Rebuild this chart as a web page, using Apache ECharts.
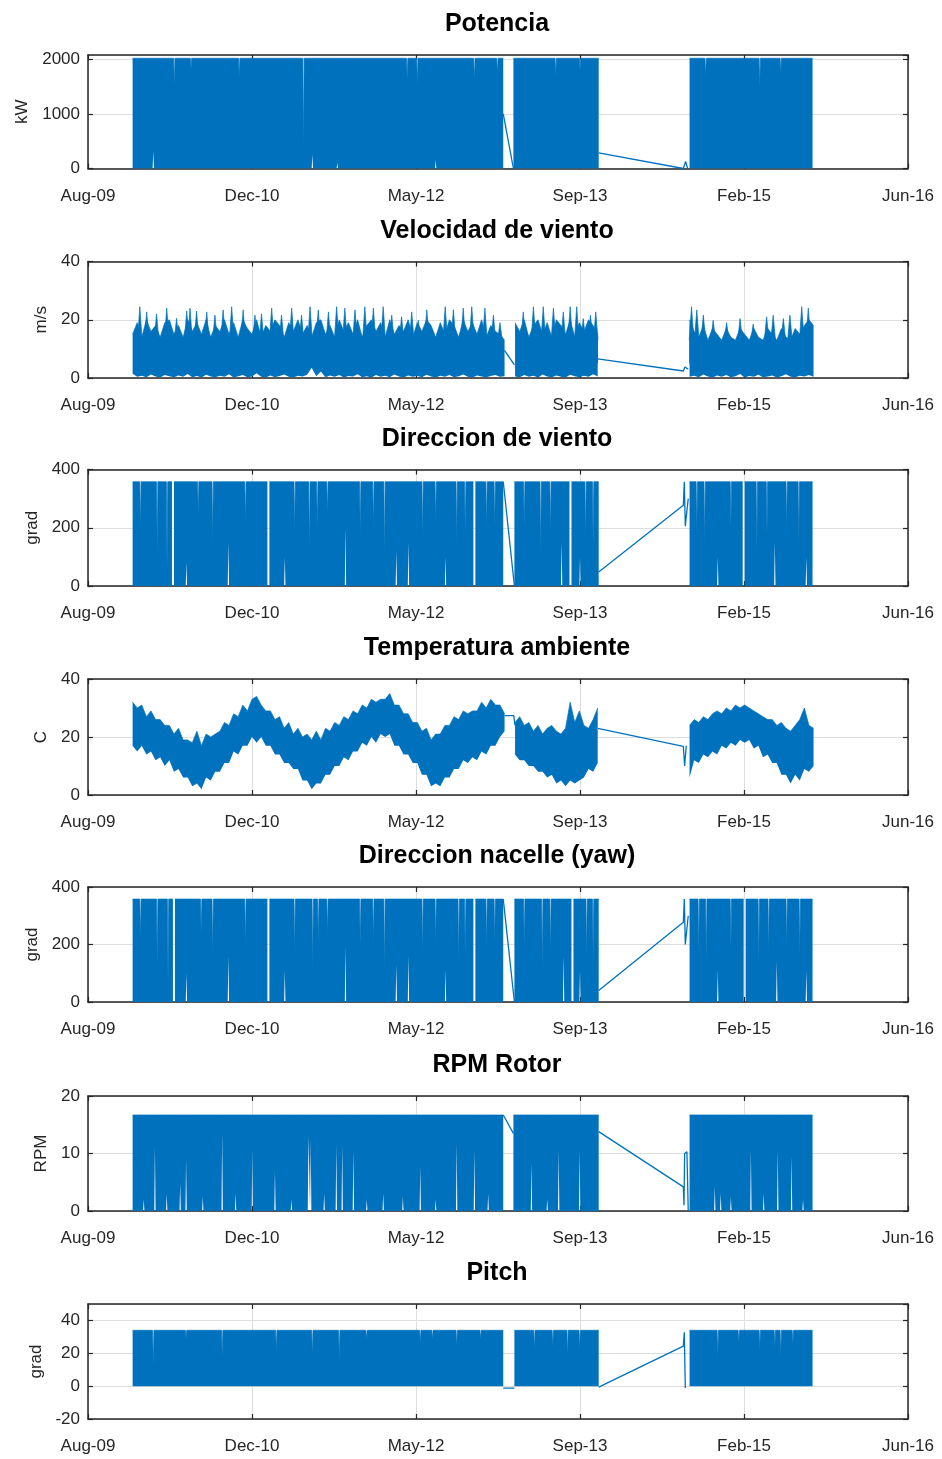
<!DOCTYPE html>
<html><head><meta charset="utf-8">
<script src="https://cdn.jsdelivr.net/npm/echarts@6/dist/echarts.min.js"></script>
<style>html,body{margin:0;padding:0;background:#fff}#c{width:942px;height:1459px}</style>
</head><body><div id="c"></div>
<script>
// ---------------- DATA ----------------
// x axis: days since 2009-08-15 (axis spans 2500 days, ticks every 500 days)
const tickLabels = ['Aug-09', 'Dec-10', 'May-12', 'Sep-13', 'Feb-15', 'Jun-16'];
const tickStepDays = 500;
const axisDays = 2500;

const titles = ['Potencia', 'Velocidad de viento', 'Direccion de viento', 'Temperatura ambiente',
                'Direccion nacelle (yaw)', 'RPM Rotor', 'Pitch'];
const yNames = ['kW', 'm/s', 'grad', 'C', 'grad', 'RPM', 'grad'];
const yMin = [0, 0, 0, 0, 0, 0, -20];
const yMax = [2080, 40, 400, 40, 400, 20, 50];
const yStep = [1000, 20, 200, 20, 200, 10, 20];

// Dense (solid) signals: blocks [startDay, endDay, low, high] and thin streaks [day, low, high] (null = gap)
const potBlocks = [[136, 1266, 0, 2020], [1297, 1557, 0, 2020], [1834, 2209, 0, 2020]];
const potStreaks = [[199, 315, 2020], [263, 0, 1535], [314, 0, 1830], [461, 0, 1680], [657, 0, 400], [684, 255, 2020],
  [760, 100, 2020], [973, 0, 1650], [1004, 0, 1550], [1060, 150, 2020], [1178, 0, 1600], [1248, 0, 1750],
  [1426, 0, 1700], [1500, 0, 1800], [1883, 0, 1700], [2048, 0, 1500], [2112, 0, 1750]];
const potLinks = [[1266, 1000], [1297, 0], null, [1557, 285], [1815, 0], [1822, 130], [1828, 0]];

const dirBlocks = [[136, 1266, 0, 358], [1300, 1557, 0, 358], [1834, 2209, 0, 358]];
const dirStreaks = [[160, 0, 200], [211, 0, 120], [241, 0, 60], [259, null, null], [300, 80, 358], [336, 0, 250],
  [380, 0, 150], [428, 150, 358], [480, 0, 220], [550, null, null], [600, 100, 358], [630, 0, 180], [675, 0, 120],
  [699, 0, 200], [730, 0, 250], [785, 200, 358], [830, 0, 180], [870, 0, 200], [904, 0, 100], [940, 120, 358],
  [977, 150, 358], [1020, 0, 160], [1060, 0, 220], [1090, 100, 358], [1124, 0, 150], [1150, 0, 180],
  [1178, null, null], [1215, 0, 200], [1240, 0, 200], [1330, 0, 200], [1380, 0, 100], [1410, 0, 180],
  [1444, 150, 358], [1471, null, null], [1500, 100, 358], [1517, 0, 160], [1540, 0, 150], [1856, 0, 180],
  [1880, 0, 150], [1920, 100, 358], [1960, 0, 200], [1999, null, null], [2039, 0, 120], [2070, 0, 180],
  [2094, 150, 358], [2130, 0, 200], [2167, 0, 150], [2190, 100, 358]];
const dirLinks = [[1266, 358], [1300, 0], null, [1557, 48], [1815, 277], [1818, 358], [1821, 205], [1830, 300]];

const nacBlocks = [[136, 1266, 0, 358], [1300, 1557, 0, 358], [1834, 2209, 0, 358]];
const nacStreaks = [[160, 0, 220], [211, 0, 130], [244, 0, 70], [262, null, null], [300, 100, 358], [345, 0, 240],
  [380, 0, 160], [428, 160, 358], [480, 0, 200], [550, null, null], [600, 110, 358], [630, 0, 170], [685, 0, 120],
  [702, 0, 210], [730, 0, 240], [785, 190, 358], [830, 0, 190], [870, 0, 210], [904, 0, 110], [940, 130, 358],
  [977, 160, 358], [1020, 0, 170], [1060, 0, 210], [1090, 110, 358], [1130, 0, 140], [1150, 0, 170],
  [1178, null, null], [1215, 0, 190], [1240, 0, 210], [1330, 0, 190], [1385, 0, 110], [1410, 0, 170],
  [1450, 160, 358], [1477, null, null], [1500, 110, 358], [1520, 0, 150], [1540, 0, 160], [1862, 0, 170],
  [1885, 0, 140], [1920, 110, 358], [1960, 0, 190], [2002, null, null], [2045, 0, 130], [2075, 0, 170],
  [2100, 140, 358], [2130, 0, 190], [2170, 0, 160], [2190, 110, 358]];
const nacLinks = [[1266, 358], [1300, 0], null, [1557, 40], [1815, 277], [1818, 358], [1821, 200], [1830, 300]];

const rpmBlocks = [[136, 1266, 0, 16.7], [1297, 1557, 0, 16.7], [1834, 2209, 0, 16.7]];
const rpmStreaks = [[170, 2, 16.7], [204, 11.2, 16.7], [240, 3, 16.7], [281, 4.8, 16.7], [299, 8.9, 16.7],
  [350, 2.5, 16.7], [409, 13.5, 16.7], [450, 3, 16.7], [501, 10.6, 16.7], [570, 7, 16.7], [620, 2, 16.7],
  [672, 13, 16.7], [679, 12.5, 16.7], [720, 3, 16.7], [757, 11.5, 16.7], [775, 11.5, 16.7], [809, 10.6, 16.7],
  [850, 2, 16.7], [900, 3, 16.7], [960, 2.5, 16.7], [1013, 7.6, 16.7], [1060, 2, 16.7], [1124, 11.8, 16.7],
  [1178, 10.6, 16.7], [1220, 3, 16.7], [1352, 8.4, 16.7], [1400, 2, 16.7], [1435, 10.6, 16.7], [1499, 10.6, 16.7],
  [1911, 4.2, 16.7], [1929, 3, 16.7], [1960, 2.5, 16.7], [2021, 10.6, 16.7], [2060, 3, 16.7], [2103, 10.6, 16.7],
  [2145, 9.5, 16.7], [2180, 2, 16.7]];
const rpmLinks = [[1266, 16.7], [1297, 13.5], null, [1557, 13.8], [1815, 4.2], [1817, 1], [1819, 10], [1826, 10.3], [1830, 0]];

const pitBlocks = [[136, 1266, -1.2, 32.8], [1300, 1557, -1.2, 32.8], [1834, 2209, -1.2, 32.8]];
const pitStreaks = [[199, -1.2, 11], [299, -1.2, 28], [409, -1.2, 17], [574, -1.2, 20], [684, -1.2, 17.4],
  [766, -1.2, 15], [849, -1.2, 27], [1013, -1.2, 25], [1050, -1.2, 27], [1124, -1.2, 23], [1197, -1.2, 27],
  [1361, -1.2, 21], [1417, -1.2, 23], [1462, -1.2, 17], [1499, -1.2, 21], [1920, -1.2, 17], [1984, -1.2, 25],
  [2048, -1.2, 21], [2094, -1.2, 23], [2112, -1.2, 17], [2149, -1.2, 25]];
const pitLinks = [[1266, -1.2], [1300, -1.2], null, [1557, -0.6], [1815, 24.4], [1818, 32.8], [1821, -1.2]];

// Noisy signals sampled every 14 days from each block start: low / high envelope per sample
const noisyStarts = [136, 1302, 1834];
const noisyStepDays = 14;

const windHi1 = [15, 19, 14, 20, 16, 18, 14, 19, 20, 15, 18, 14, 20, 16, 19, 15, 20, 14, 18, 16,
  20, 15, 19, 14, 20, 17, 15, 20, 14, 18, 16, 20, 18, 14, 19, 16, 20, 15, 18, 14,
  19, 20, 15, 18, 14, 20, 16, 19, 15, 20, 14, 18, 20, 16, 19, 14, 20, 15, 18, 16,
  20, 14, 19, 16, 20, 18, 14, 19, 15, 20, 18, 14, 20, 16, 19, 15, 20, 14, 18, 16, 15, 13];
const windLo1 = [1.5, 0.4, 0.8, 0.3, 1.2, 0.5, 0.2, 1.0, 0.6, 0.3, 0.9, 0.4, 1.4, 0.3, 0.7, 0.2, 1.1, 0.5, 0.3, 0.8,
  0.4, 1.3, 0.2, 0.6, 1.0, 0.3, 0.5, 1.6, 0.4, 0.2, 0.9, 0.3, 0.7, 1.2, 0.4, 0.2, 0.8, 0.5, 1.1, 3.5,
  0.6, 2.2, 0.3, 0.9, 0.4, 1.0, 0.2, 0.7, 0.5, 1.3, 0.3, 0.6, 0.2, 1.0, 0.4, 0.8, 0.3, 1.2, 0.5, 0.2,
  0.9, 0.4, 0.7, 0.3, 1.1, 0.5, 0.2, 0.8, 0.4, 1.0, 0.3, 0.6, 1.2, 0.4, 0.2, 0.9, 0.5, 0.3, 0.7, 1.0, 0.4, 0.6];
const windHi2 = [19, 16, 20, 14, 18, 20, 15, 19, 14, 20, 18, 15, 20, 14, 19, 16, 20, 18, 15];
const windLo2 = [0.5, 0.3, 1.0, 0.4, 0.8, 0.2, 1.2, 0.5, 0.3, 0.9, 0.4, 0.2, 1.1, 0.6, 0.3, 0.8, 0.4, 1.3, 0.5];
const windHi3 = [20, 16, 14, 18, 13, 17, 15, 13, 17, 14, 13, 17, 15, 13, 17, 14, 13, 17, 15, 13,
  17, 14, 13, 17, 15, 18, 20, 18];
const windLo3 = [0.4, 0.8, 0.3, 1.2, 0.5, 0.2, 0.9, 0.4, 1.0, 0.3, 0.6, 1.4, 0.2, 0.7, 0.4, 1.1, 0.3, 0.5, 0.9, 0.2,
  0.6, 1.3, 0.4, 0.3, 0.8, 0.5, 1.0, 0.4];
// gust peaks above the wind-speed band: [day, peak m/s]
const windPeaks = [[158, 24.5], [179, 22.7], [209, 22], [240, 24], [270, 20.5], [301, 23], [311, 24], [331, 23],
  [362, 22.7], [387, 21.6], [412, 23.4], [438, 24.5], [473, 23.4], [509, 21.6], [529, 22], [560, 24], [590, 21.6],
  [621, 24], [651, 21.6], [677, 24.5], [702, 23.4], [733, 22.7], [758, 24.5], [783, 24], [814, 23.4], [844, 24.5],
  [870, 24], [900, 24.5], [926, 21.6], [956, 21], [987, 22.7], [1007, 19.8], [1033, 23.4], [1089, 24.5],
  [1114, 23.4], [1144, 24], [1170, 24.5], [1210, 24], [1236, 21.6], [1256, 19],
  [1327, 22.7], [1358, 24.5], [1388, 24.5], [1419, 24], [1449, 22.7], [1470, 24.5], [1490, 24.5], [1510, 20.4],
  [1532, 21.6], [1548, 22.7],
  [1840, 24.5], [1856, 23.4], [1876, 21.6], [1906, 19.8], [1947, 19], [1988, 20.4], [2028, 18.5], [2069, 21],
  [2089, 21.6], [2120, 20.4], [2140, 21.6], [2176, 24.5], [2196, 24]];
const windLinks = [[1270, 9.5], [1300, 4.5], null, [1554, 6.6], [1815, 2.4], [1820, 3.8], [1830, 3]];

const tempHi1 = [32, 30, 31, 27, 29, 26, 26, 24, 24, 21, 23, 19, 19, 18, 22, 17, 21, 20, 21, 22,
  25, 24, 28, 27, 31, 29, 33, 34, 31, 29, 29, 26, 27, 23, 25, 21, 23, 20, 21, 19,
  22, 19, 23, 22, 25, 24, 27, 26, 29, 28, 31, 30, 33, 32, 33, 33, 35, 31, 31, 28,
  28, 25, 25, 22, 23, 19, 21, 21, 24, 24, 27, 26, 29, 28, 29, 29, 32, 30, 33, 31, 31, 28];
const tempLo1 = [17, 15, 17, 14, 15, 12, 13, 10, 12, 8, 9, 6, 6, 3, 4, 2, 6, 5, 8, 8,
  11, 11, 15, 14, 17, 17, 20, 18, 20, 17, 17, 14, 14, 11, 11, 9, 9, 5, 5, 2,
  4, 4, 7, 7, 10, 10, 13, 12, 15, 15, 18, 17, 20, 18, 21, 20, 21, 17, 17, 14,
  14, 11, 11, 7, 7, 3, 4, 3, 6, 6, 9, 9, 12, 11, 13, 12, 15, 14, 17, 17, 20, 22];
const tempHi2 = [25, 27, 24, 25, 22, 24, 21, 23, 24, 22, 21, 23, 32, 25, 29, 24, 23, 26, 30];
const tempLo2 = [14, 12, 12, 10, 10, 8, 8, 6, 7, 4, 5, 3, 5, 4, 5, 6, 9, 8, 11];
const tempHi3 = [24, 26, 25, 27, 26, 28, 29, 28, 30, 29, 31, 30, 31, 30, 29, 28, 27, 26, 26, 24,
  25, 23, 22, 24, 26, 30, 24, 23];
const tempLo3 = [6, 12, 11, 14, 13, 15, 14, 17, 16, 18, 17, 19, 18, 19, 16, 17, 13, 14, 11, 11,
  7, 7, 4, 7, 5, 9, 8, 10];
const tempLinks = [[1270, 27.4], [1298, 27.4], [1302, 24], null, [1554, 23], [1815, 16.8], [1819, 10], [1824, 17]];

// ---------------- LAYOUT / STYLE ----------------
const gridTop = [55, 261.5, 469.5, 679, 887, 1096, 1304];
const gridH = [113.5, 116.5, 116.5, 116, 115, 115, 115];
const nameGaps = [56.5, 29.5, 37, 37, 37, 30.5, 37];
const BLUE = '#0072BD';
const TXT = '#262626';
const AXC = '#262626';
const GRIDC = '#dedede';
const FONT = '"Liberation Sans", Arial, Helvetica, sans-serif';

// ---------------- BUILD ----------------
function solidBand(blocks, streaks) {
  const pts = [];
  blocks.forEach((b, bi) => {
    const [s, e, lo, hi] = b;
    pts.push([s, lo, hi]);
    streaks.filter(t => t[0] > s && t[0] < e).sort((a, c) => a[0] - c[0]).forEach(t => {
      const w = t[1] === null ? 3 : 2;
      pts.push([t[0] - w, lo, hi]);
      pts.push([t[0], t[1], t[2]]);
      pts.push([t[0] + w, lo, hi]);
    });
    pts.push([e, lo, hi]);
    if (bi < blocks.length - 1) pts.push([e + 1, null, null]);
  });
  return pts;
}
function sampledBand(starts, step, los, his) {
  const pts = [];
  starts.forEach((s, bi) => {
    los[bi].forEach((lo, k) => pts.push([s + step * k, lo, his[bi][k]]));
    if (bi < starts.length - 1) pts.push([s + step * (los[bi].length - 1) + 1, null, null]);
  });
  return pts;
}
// wedges rising from inside the band (base) up to each peak
function peakBand(peaks, floor, base, half) {
  const pts = [];
  peaks.forEach(p => {
    pts.push([p[0] - half, floor, base]);
    pts.push([p[0], floor, p[1]]);
    pts.push([p[0] + half, floor, base]);
    pts.push([p[0] + half + 1, null, null]);
  });
  return pts;
}

const bands = [
  [solidBand(potBlocks, potStreaks)],
  [sampledBand(noisyStarts, noisyStepDays, [windLo1, windLo2, windLo3], [windHi1, windHi2, windHi3]),
   peakBand(windPeaks, 5, 13, 7)],
  [solidBand(dirBlocks, dirStreaks)],
  [sampledBand(noisyStarts, noisyStepDays, [tempLo1, tempLo2, tempLo3], [tempHi1, tempHi2, tempHi3])],
  [solidBand(nacBlocks, nacStreaks)],
  [solidBand(rpmBlocks, rpmStreaks)],
  [solidBand(pitBlocks, pitStreaks)]
];
const links = [potLinks, windLinks, dirLinks, tempLinks, nacLinks, rpmLinks, pitLinks];

const dayCats = [];
for (let d = 0; d <= axisDays; d++) dayCats.push(String(d));
const isTick = (idx) => idx % tickStepDays === 0;

const grids = [], xAxes = [], yAxes = [], series = [], titleList = [];
for (let i = 0; i < 7; i++) {
  grids.push({left: 88, right: 34, top: gridTop[i], height: gridH[i], outerBoundsMode: 'none', containLabel: false});
  titleList.push({
    text: titles[i], left: 492, top: gridTop[i] - 48, textAlign: 'center',
    textStyle: {fontSize: 25, fontWeight: 'bold', fontFamily: FONT, color: '#000'}
  });
  const axLine = {show: true, onZero: false, lineStyle: {color: AXC, width: 1.5}};
  xAxes.push({
    type: 'category', gridIndex: i, data: dayCats, boundaryGap: false, position: 'bottom',
    axisLine: axLine,
    axisTick: {show: true, inside: true, length: 5, interval: isTick, lineStyle: {color: AXC, width: 1.2}},
    axisLabel: {show: true, interval: isTick, formatter: (v, idx) => tickLabels[Math.round(idx / tickStepDays)],
      color: TXT, fontSize: 17, fontFamily: FONT, margin: 19},
    splitLine: {show: true, interval: isTick, lineStyle: {color: GRIDC, width: 1}}
  });
  xAxes.push({
    type: 'category', gridIndex: i, data: dayCats, boundaryGap: false, position: 'top',
    axisLine: axLine,
    axisTick: {show: true, inside: true, length: 5, interval: isTick, lineStyle: {color: AXC, width: 1.2}},
    axisLabel: {show: false}, splitLine: {show: false}
  });
  const exact = (yMax[i] - yMin[i]) % yStep[i] === 0;
  yAxes.push({
    type: 'value', gridIndex: i, min: yMin[i], max: yMax[i], interval: yStep[i], position: 'left',
    name: yNames[i], nameLocation: 'middle', nameGap: nameGaps[i],
    nameTextStyle: {color: TXT, fontSize: 17, fontFamily: FONT},
    axisLine: axLine,
    axisTick: {show: true, inside: true, length: 5, lineStyle: {color: AXC, width: 1.2}},
    axisLabel: {color: TXT, fontSize: 17, fontFamily: FONT, margin: 8, showMaxLabel: exact,
      formatter: (v) => String(v)},
    splitLine: {show: true, lineStyle: {color: GRIDC, width: 1}}
  });
  yAxes.push({
    type: 'value', gridIndex: i, min: yMin[i], max: yMax[i], interval: yStep[i], position: 'right',
    axisLine: axLine,
    axisTick: {show: true, inside: true, length: 5, lineStyle: {color: AXC, width: 1.2}},
    axisLabel: {show: false}, splitLine: {show: false}
  });

  bands[i].forEach((pts, bj) => {
    const st = 'band' + i + '_' + bj;
    series.push({
      type: 'line', xAxisIndex: 2 * i, yAxisIndex: 2 * i, stack: st, symbol: 'none', silent: true,
      lineStyle: {width: 0, opacity: 0}, data: pts.map(p => [p[0], p[1]]), z: 2
    });
    series.push({
      type: 'line', xAxisIndex: 2 * i, yAxisIndex: 2 * i, stack: st, symbol: 'none', silent: true,
      lineStyle: {color: BLUE, width: 0.7}, areaStyle: {color: BLUE, opacity: 1},
      data: pts.map(p => [p[0], p[1] === null ? null : p[2] - p[1]]), z: 2
    });
  });
  const segs = [[]];
  links[i].forEach(p => { if (p === null) segs.push([]); else segs[segs.length - 1].push(p); });
  segs.forEach(seg => series.push({
    type: 'line', xAxisIndex: 2 * i, yAxisIndex: 2 * i, symbol: 'none', silent: true,
    lineStyle: {color: BLUE, width: 1.3}, data: seg, z: 3
  }));
}

const chart = echarts.init(document.getElementById('c'), null, {renderer: 'canvas'});
chart.setOption({
  animation: false, backgroundColor: '#fff',
  title: titleList, grid: grids, xAxis: xAxes, yAxis: yAxes, series: series
});
</script></body></html>
